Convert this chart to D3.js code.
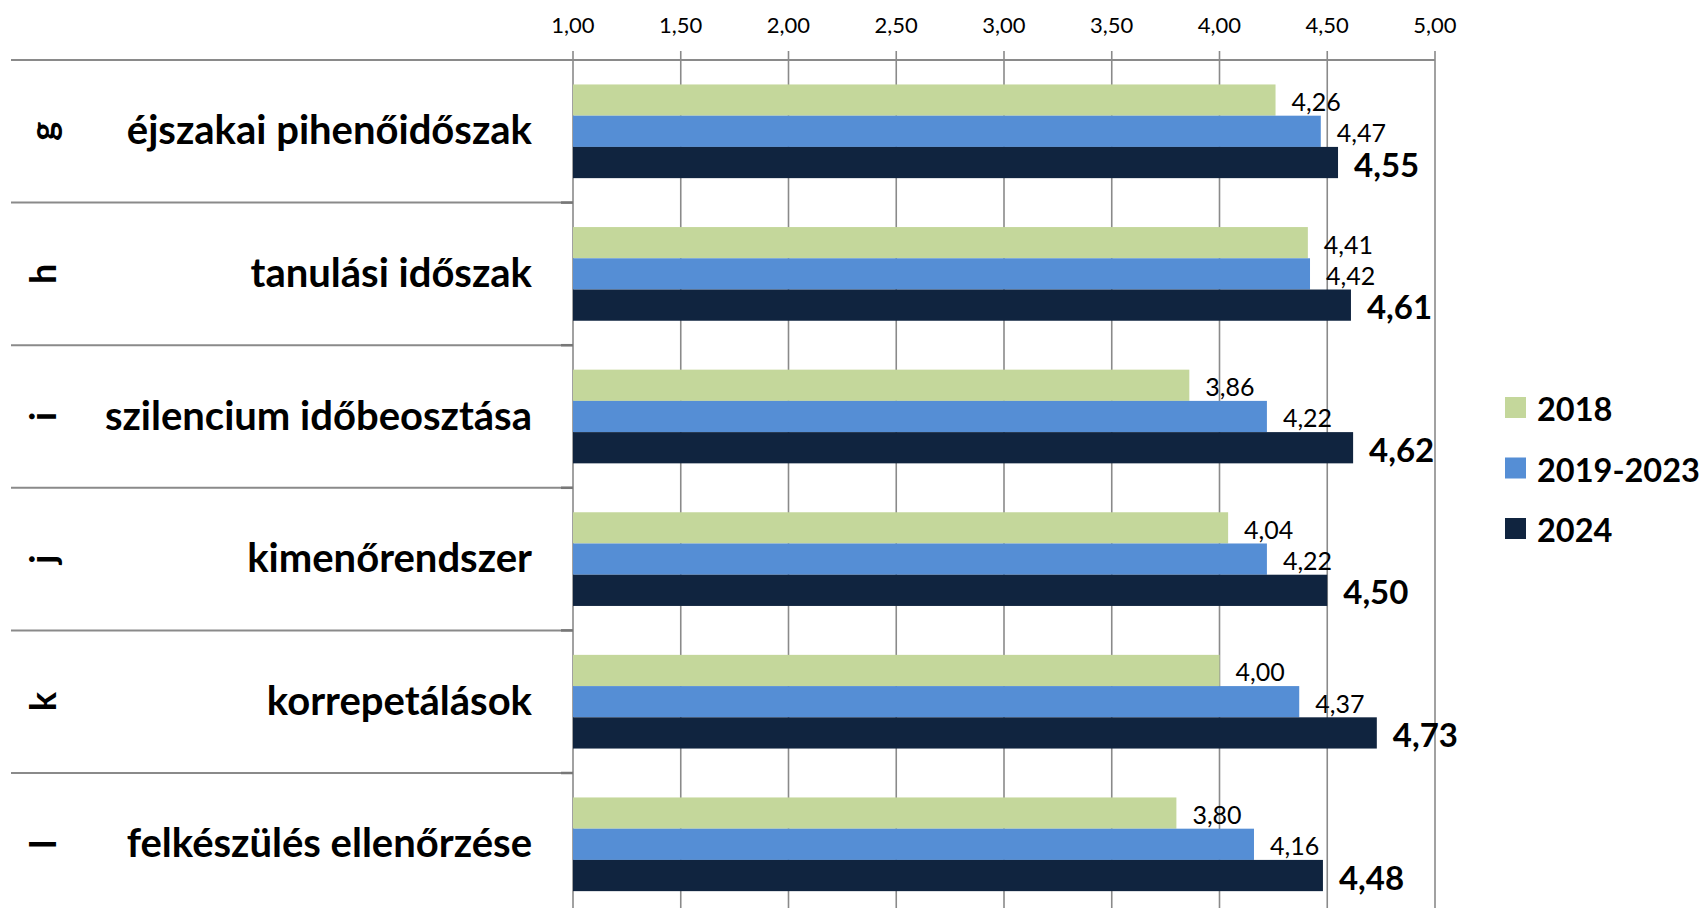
<!DOCTYPE html>
<html>
<head>
<meta charset="utf-8">
<script src="https://cdn.jsdelivr.net/npm/d3@7"></script>
<style>
  html, body { margin: 0; padding: 0; background: #fff; }
  svg { display: block; }
  text { font-family: Lato, "Open Sans", sans-serif; fill: #000; }
</style>
</head>
<body>
<svg id="chart" width="1702" height="908"></svg>
<script>
const letters = ["g", "h", "i", "j", "k", "l"];
const categories = ["éjszakai pihenőidőszak", "tanulási időszak", "szilencium időbeosztása", "kimenőrendszer", "korrepetálások", "felkészülés ellenőrzése"];
const seriesNames = ["2018", "2019-2023", "2024"];
const values2018 = [4.26, 4.41, 3.86, 4.04, 4.00, 3.80];
const values2019_2023 = [4.47, 4.42, 4.22, 4.22, 4.37, 4.16];
const values2024 = [4.55, 4.61, 4.62, 4.50, 4.73, 4.48];
const tickValues = [1.00, 1.50, 2.00, 2.50, 3.00, 3.50, 4.00, 4.50, 5.00];
const colors = ["#C4D79B", "#558ED5", "#10243F"];

const seriesValues = [values2018, values2019_2023, values2024];
const svg = d3.select("#chart");
const W = 1702, H = 908;

const plotLeft = 573, plotRight = 1435, plotTop = 60;
const step = 142.6;
const x = d3.scaleLinear().domain([1, 5]).range([plotLeft, plotRight]);
const y0 = d3.scaleBand().domain(categories)
  .range([plotTop, plotTop + step * categories.length])
  .paddingInner(0.343).paddingOuter(0.1715);
const y1 = d3.scaleBand().domain(seriesNames).range([0, y0.bandwidth()]);

const huFmt = d3.formatLocale({decimal: ",", thousands: " ", grouping: [3], currency: ["", ""]}).format(".2f");

const gridColor = "#8a8a8a";

// vertical gridlines
svg.append("g").selectAll("line").data(tickValues).join("line")
  .attr("x1", d => x(d)).attr("x2", d => x(d))
  .attr("y1", plotTop - 9).attr("y2", H)
  .attr("stroke", gridColor).attr("stroke-width", 1.6);

// top axis line
svg.append("line")
  .attr("x1", 11).attr("x2", plotRight)
  .attr("y1", plotTop).attr("y2", plotTop)
  .attr("stroke", gridColor).attr("stroke-width", 2);

// category separators on the left
const seps = d3.range(1, categories.length + 1).map(i => plotTop + i * step);
svg.append("g").selectAll("line").data(seps).join("line")
  .attr("x1", 11).attr("x2", plotLeft)
  .attr("y1", d => d).attr("y2", d => d)
  .attr("stroke", gridColor).attr("stroke-width", 2);
svg.append("g").selectAll("line").data(seps).join("line")
  .attr("x1", plotLeft - 12).attr("x2", plotLeft)
  .attr("y1", d => d).attr("y2", d => d)
  .attr("stroke", "#777").attr("stroke-width", 2.5);

// tick labels
svg.append("g").selectAll("text").data(tickValues).join("text")
  .attr("x", d => x(d)).attr("y", 24)
  .attr("text-anchor", "middle").attr("dominant-baseline", "central")
  .style("font-size", "22px")
  .text(d => huFmt(d));

// bars
const groups = svg.append("g").selectAll("g").data(categories).join("g")
  .attr("transform", c => `translate(0,${y0(c)})`);

groups.each(function(c, ci) {
  const g = d3.select(this);
  seriesNames.forEach((s, si) => {
    const v = seriesValues[si][ci];
    g.append("rect")
      .attr("x", x(1)).attr("y", y1(s))
      .attr("width", x(v) - x(1)).attr("height", y1.bandwidth())
      .attr("fill", colors[si]);
    g.append("text")
      .attr("x", x(v) + 16)
      .attr("y", y1(s) + y1.bandwidth() / 2 + 1)
      .attr("dominant-baseline", "central")
      .style("font-size", si === 2 ? "33px" : "25px")
      .style("font-weight", si === 2 ? "bold" : "normal")
      .text(huFmt(v));
  });
});

// category labels
svg.append("g").selectAll("text").data(categories).join("text")
  .attr("x", 532)
  .attr("y", c => y0(c) + y0.bandwidth() / 2 - 2)
  .attr("text-anchor", "end").attr("dominant-baseline", "central")
  .style("font-size", "40px").style("font-weight", "bold")
  .text(c => c);

// letter labels (rotated)
svg.append("g").selectAll("text").data(letters).join("text")
  .attr("transform", (l, i) => `translate(42,${y0(categories[i]) + y0.bandwidth() / 2}) rotate(-90)`)
  .attr("text-anchor", "middle").attr("dominant-baseline", "central")
  .style("font-size", "36px").style("font-weight", "bold")
  .text(l => l);

// legend
const legend = svg.append("g").selectAll("g").data(seriesNames).join("g")
  .attr("transform", (s, i) => `translate(1505,${407.5 + i * 60.5})`);
legend.append("rect")
  .attr("x", 0).attr("y", -10.5).attr("width", 21).attr("height", 21)
  .attr("fill", (s, i) => colors[i]);
legend.append("text")
  .attr("x", 32).attr("y", 1)
  .attr("dominant-baseline", "central")
  .style("font-size", "32.5px").style("font-weight", "bold")
  .text(s => s);
</script>
</body>
</html>
